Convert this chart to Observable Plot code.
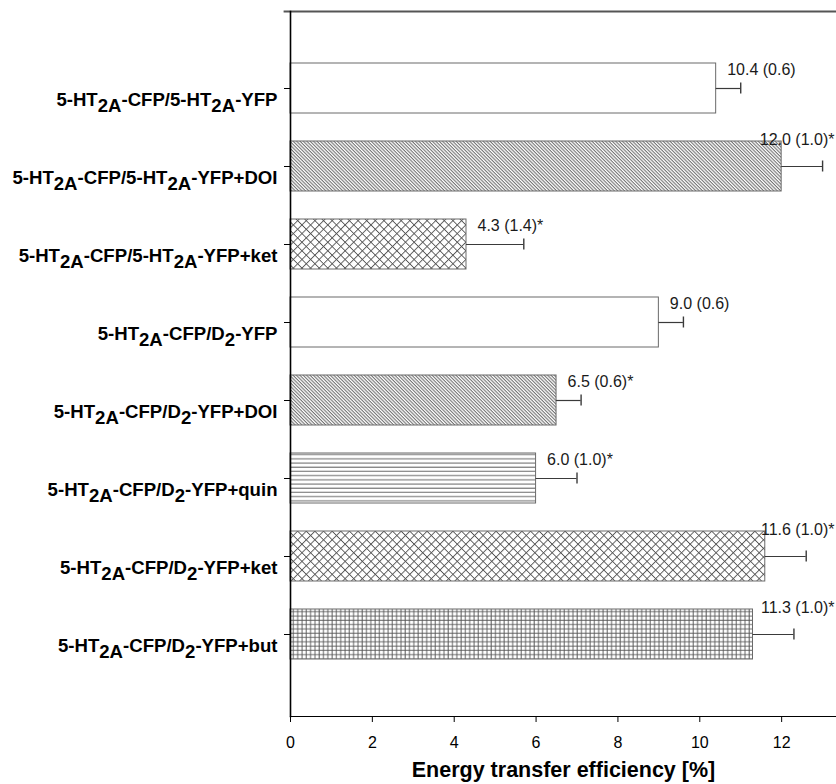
<!DOCTYPE html>
<html>
<head>
<meta charset="utf-8">
<script src="https://cdn.jsdelivr.net/npm/d3@7"></script>
<script src="https://cdn.jsdelivr.net/npm/@observablehq/plot@0.6"></script>
<style>
  html, body { margin: 0; padding: 0; background: #fff; }
  #chart svg { display: block; }
</style>
</head>
<body>
<div id="chart"></div>
<script>
// ---- data ----
const categories = [
  "5-HT_{2A}-CFP/5-HT_{2A}-YFP",
  "5-HT_{2A}-CFP/5-HT_{2A}-YFP+DOI",
  "5-HT_{2A}-CFP/5-HT_{2A}-YFP+ket",
  "5-HT_{2A}-CFP/D_{2}-YFP",
  "5-HT_{2A}-CFP/D_{2}-YFP+DOI",
  "5-HT_{2A}-CFP/D_{2}-YFP+quin",
  "5-HT_{2A}-CFP/D_{2}-YFP+ket",
  "5-HT_{2A}-CFP/D_{2}-YFP+but"
];
const values = [10.4, 12.0, 4.3, 9.0, 6.5, 6.0, 11.6, 11.3];
const errors = [0.6, 1.0, 1.4, 0.6, 0.6, 1.0, 1.0, 1.0];
const significant = [false, true, true, false, true, true, true, true];
const xTicks = [0, 2, 4, 6, 8, 10, 12];
const xTitle = "Energy transfer efficiency [%]";

// ---- styles ----
const barPattern = ["white", "diag", "cross", "white", "diag", "horiz", "cross", "grid"];
const patFill = p => p === "white" ? "white" : `url(#pat-${p})`;

const W = 836, marginLeft = 290, xMax = 13.34;
const pxPerUnit = (W - marginLeft) / xMax;
const labelDx = 11, labelCharW = 8.9, rightLimit = 834;

const rows = categories.map((c, i) => {
  const label = `${values[i].toFixed(1)} (${errors[i].toFixed(1)})${significant[i] ? "*" : ""}`;
  const endPx = marginLeft + values[i] * pxPerUnit + labelDx + label.length * labelCharW;
  return {
    cat: c,
    value: values[i],
    err: errors[i],
    hi: values[i] + errors[i],
    label,
    clamped: endPx > rightLimit,
    pat: patFill(barPattern[i])
  };
});

function patternDefs() {
  const defs = d3.create("svg:defs");
  const lc = "#555";
  let p = defs.append("pattern").attr("id", "pat-diag").attr("patternUnits", "userSpaceOnUse")
    .attr("width", 10).attr("height", 2.4).attr("patternTransform", "rotate(45)");
  p.append("rect").attr("width", 10).attr("height", 2.4).attr("fill", "white");
  p.append("line").attr("x1", 0).attr("x2", 10).attr("y1", 0.6).attr("y2", 0.6).attr("stroke", lc).attr("stroke-width", 0.9);
  p = defs.append("pattern").attr("id", "pat-cross").attr("patternUnits", "userSpaceOnUse")
    .attr("width", 6.1).attr("height", 6.1).attr("patternTransform", "rotate(45)");
  p.append("rect").attr("width", 6.1).attr("height", 6.1).attr("fill", "white");
  p.append("path").attr("d", "M0,0.5H6.1M0.5,0V6.1").attr("stroke", lc).attr("stroke-width", 0.9).attr("fill", "none");
  p = defs.append("pattern").attr("id", "pat-horiz").attr("patternUnits", "userSpaceOnUse")
    .attr("width", 10).attr("height", 4.2);
  p.append("rect").attr("width", 10).attr("height", 4.2).attr("fill", "white");
  p.append("line").attr("x1", 0).attr("x2", 10).attr("y1", 1).attr("y2", 1).attr("stroke", lc).attr("stroke-width", 0.9);
  p = defs.append("pattern").attr("id", "pat-grid").attr("patternUnits", "userSpaceOnUse")
    .attr("width", 4.3).attr("height", 4.3);
  p.append("rect").attr("width", 4.3).attr("height", 4.3).attr("fill", "white");
  p.append("path").attr("d", "M0,1H4.3M1,0V4.3").attr("stroke", lc).attr("stroke-width", 0.9).attr("fill", "none");
  return defs.node();
}

const chart = Plot.plot({
  width: W,
  height: 784,
  marginTop: 11,
  marginBottom: 68,
  marginLeft,
  marginRight: 0,
  style: { fontFamily: "'Liberation Sans', Arial, Helvetica, sans-serif", background: "white", overflow: "visible", color: "black" },
  x: { domain: [0, xMax] },
  y: { domain: categories, range: [48.45, 673.25], paddingInner: 0.36, paddingOuter: 0.18 },
  color: { type: "identity" },
  marks: [
    patternDefs,
    Plot.barX(rows, { x: "value", y: "cat", fill: "pat", stroke: "#6a6a6a", strokeWidth: 1 }),
    Plot.ruleY(rows, { y: "cat", x1: "value", x2: "hi", stroke: "#3a3a3a", strokeWidth: 1.2 }),
    Plot.tickX(rows, { x: "hi", y: "cat", insetTop: 19.5, insetBottom: 19.5, stroke: "#3a3a3a", strokeWidth: 1.4 }),
    Plot.text(rows.filter(d => !d.clamped), { x: "value", y: "cat", text: "label", dx: labelDx, dy: -19, textAnchor: "start", fontSize: 16, fill: "#1a1a1a" }),
    Plot.text(rows.filter(d => d.clamped), { y: "cat", text: "label", frameAnchor: "right", dx: rightLimit - W, dy: -27, textAnchor: "end", fontSize: 16, fill: "#1a1a1a" }),
    Plot.axisY({ tickSize: 6, tickPadding: 7, fontSize: 18.6, fontWeight: "bold", label: null }),
    Plot.axisX({ ticks: xTicks, tickSize: 6, tickPadding: 14, fontSize: 16, label: null }),
    Plot.frame({ anchor: "top", stroke: "#555", strokeWidth: 1.8, insetLeft: -6 }),
    Plot.frame({ anchor: "left", stroke: "black", strokeWidth: 1.6 }),
    Plot.frame({ anchor: "bottom", stroke: "black", strokeWidth: 1.2 }),
    Plot.text([xTitle], { text: d => d, frameAnchor: "bottom", dy: 60.6, fontSize: 21.5, fontWeight: "bold", fill: "black" })
  ]
});

// Rebuild y tick labels with subscript tspans (e.g. 5-HT_{2A} -> 5-HT with lowered 2A)
const NS = "http://www.w3.org/2000/svg";
const shift = 6.5;
chart.querySelectorAll('[aria-label="y-axis tick label"] text').forEach(t => {
  const raw = t.textContent;
  while (t.firstChild) t.removeChild(t.firstChild);
  const re = /_\{([^}]*)\}/g;
  let last = 0, m, low = false;
  const add = (s, sub) => {
    if (!s) return;
    const ts = document.createElementNS(NS, "tspan");
    if (sub && !low) { ts.setAttribute("dy", shift); low = true; }
    else if (!sub && low) { ts.setAttribute("dy", -shift); low = false; }
    ts.textContent = s;
    t.appendChild(ts);
  };
  while ((m = re.exec(raw))) {
    add(raw.slice(last, m.index), false);
    add(m[1], true);
    last = re.lastIndex;
  }
  add(raw.slice(last), false);
  t.setAttribute("dy", "0.6em");
  t.setAttribute("font-weight", "bold");
});

document.getElementById("chart").appendChild(chart);
</script>
</body>
</html>
